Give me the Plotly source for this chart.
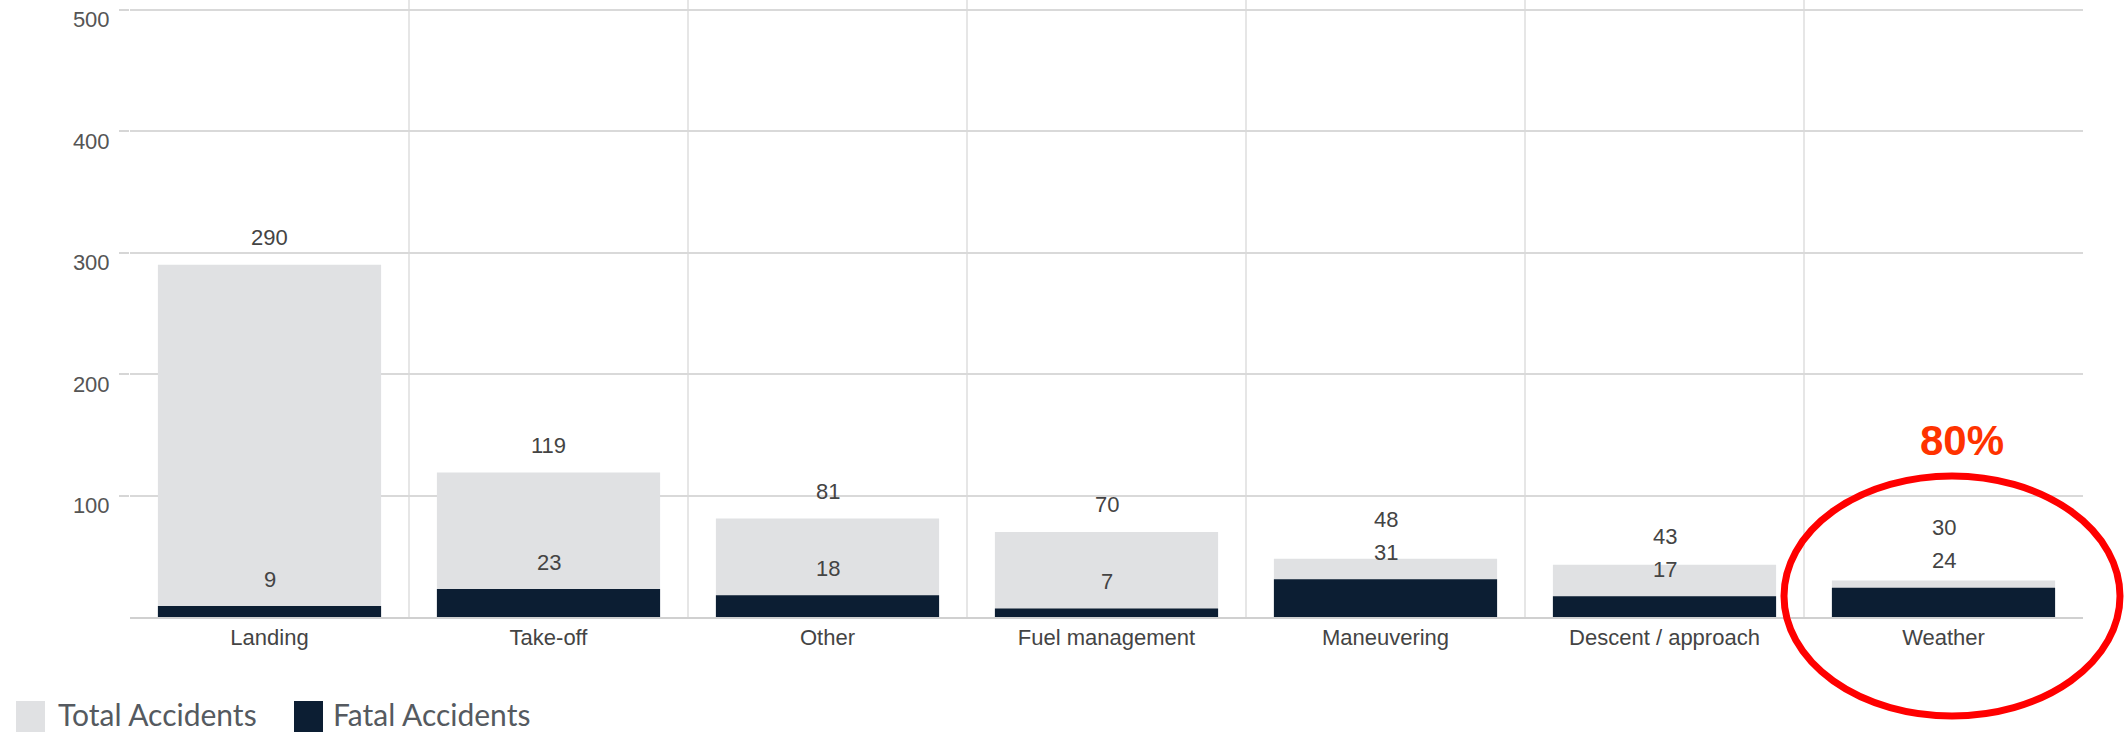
import plotly.graph_objects as go

# ---- data ----
categories = ["Landing", "Take-off", "Other", "Fuel management",
              "Maneuvering", "Descent / approach", "Weather"]
total_accidents = [290, 119, 81, 70, 48, 43, 30]
fatal_accidents = [9, 23, 18, 7, 31, 17, 24]
y_tick_values = [100, 200, 300, 400, 500]
highlight_text = "80%"

# ---- layout constants ----
W, H = 2126, 733
ML, MR, MT, MB = 130, 43, 0, 116
PW, PH = W - ML - MR, H - MT - MB
YMAX = 508
ppu = PH / YMAX

GRAY = "#E0E1E3"
NAVY = "#0C1E33"
TXT = "#444444"
FONT = "Liberation Sans, Arial, sans-serif"


def px_x(x):
    return (x - ML) / PW


def px_y(y):
    return (H - MB - y) / PH


fig = go.Figure()
fig.add_trace(go.Bar(x=categories, y=total_accidents, name="Total Accidents",
                     marker=dict(color=GRAY, line=dict(width=0)), width=0.8))
fig.add_trace(go.Bar(x=categories, y=fatal_accidents, name="Fatal Accidents",
                     marker=dict(color=NAVY, line=dict(width=0)), width=0.8))

annotations = []
for c, t, f in zip(categories, total_accidents, fatal_accidents):
    f_px = f * ppu + 27
    t_px = max(t * ppu + 27, f_px + 33)
    annotations.append(dict(x=c, y=f, xref="x", yref="y", text=str(f),
                            showarrow=False, yshift=f_px - f * ppu,
                            font=dict(size=22, color=TXT, family=FONT)))
    annotations.append(dict(x=c, y=t, xref="x", yref="y", text=str(t),
                            showarrow=False, yshift=t_px - t * ppu,
                            font=dict(size=22, color=TXT, family=FONT)))

# highlight text
annotations.append(dict(x=px_x(1962), y=px_y(440), xref="paper", yref="paper",
                        text="<b>" + highlight_text + "</b>", showarrow=False,
                        xanchor="center", yanchor="middle",
                        font=dict(size=42, color="#FF3300", family=FONT)))

# custom legend text
LEG_FONT = dict(size=30, color="#555A60", family="Lato, Open Sans, sans-serif")
annotations.append(dict(x=px_x(56), y=px_y(714), xref="paper", yref="paper",
                        text="Total Accidents", showarrow=False,
                        xanchor="left", yanchor="middle", font=LEG_FONT))
annotations.append(dict(x=px_x(331), y=px_y(714), xref="paper", yref="paper",
                        text="Fatal Accidents", showarrow=False,
                        xanchor="left", yanchor="middle", font=LEG_FONT))

shapes = [
    dict(type="rect", xref="paper", yref="paper",
         x0=px_x(16), x1=px_x(45), y0=px_y(732), y1=px_y(701),
         fillcolor=GRAY, line=dict(width=0)),
    dict(type="rect", xref="paper", yref="paper",
         x0=px_x(294), x1=px_x(323), y0=px_y(732), y1=px_y(701),
         fillcolor=NAVY, line=dict(width=0)),
    dict(type="circle", xref="paper", yref="paper",
         x0=px_x(1784), x1=px_x(2120), y0=px_y(716), y1=px_y(476),
         line=dict(color="#FF0000", width=7), fillcolor="rgba(0,0,0,0)",
         layer="above"),
]

fig.update_layout(
    width=W, height=H,
    margin=dict(l=ML, r=MR, t=MT, b=MB, pad=0, autoexpand=False),
    barmode="overlay",
    showlegend=False,
    paper_bgcolor="white", plot_bgcolor="white",
    font=dict(family=FONT, size=22, color=TXT),
    annotations=annotations,
    shapes=shapes,
    xaxis=dict(type="category", tickson="boundaries", ticks="",
               showgrid=True, gridcolor="#E6E6E6", gridwidth=1.5,
               showline=True, linecolor="#D0D0D0", linewidth=2,
               tickfont=dict(size=22, color=TXT, family=FONT),
               range=[-0.5, 6.5], fixedrange=True),
    yaxis=dict(range=[0, YMAX], tickvals=y_tick_values,
               ticks="outside", ticklen=10, tickcolor="#D6D6D6", tickwidth=2,
               showgrid=True, gridcolor="#D9D9D9", gridwidth=2,
               zeroline=False, showline=False,
               ticklabelshift=10, ticklabelstandoff=5,
               tickfont=dict(size=22, color="#555555", family=FONT)),
)

fig.write_html("out.html")
